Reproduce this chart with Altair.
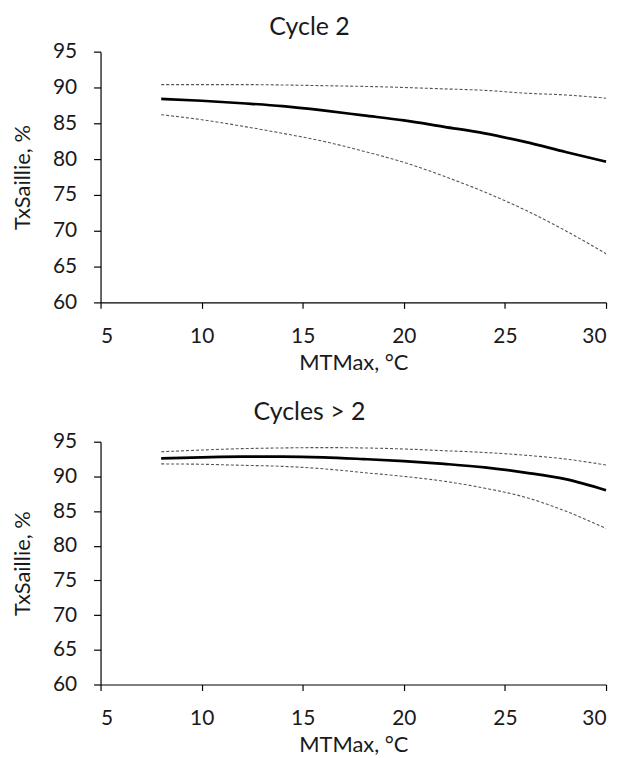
import altair as alt
import pandas as pd

# MTMax (°C) sample positions
x_vals = [8, 10, 12, 14, 16, 18, 20, 22, 24, 26, 28, 30]

# Cycle 2
c2_fit   = [88.4, 88.15, 87.8, 87.4, 86.8, 86.1, 85.4, 84.5, 83.6, 82.4, 81.0, 79.65]
c2_upper = [90.4, 90.4, 90.4, 90.35, 90.25, 90.15, 90.0, 89.8, 89.6, 89.2, 88.95, 88.5]
c2_lower = [86.2, 85.5, 84.6, 83.6, 82.5, 81.1, 79.55, 77.6, 75.4, 72.9, 70.0, 66.8]

# Cycles > 2
c3_fit   = [92.6, 92.75, 92.85, 92.85, 92.75, 92.5, 92.2, 91.8, 91.3, 90.55, 89.6, 88.0]
c3_upper = [93.55, 93.8, 94.0, 94.1, 94.15, 94.1, 93.95, 93.7, 93.45, 93.05, 92.5, 91.65]
c3_lower = [91.8, 91.75, 91.6, 91.45, 91.1, 90.55, 90.0, 89.3, 88.3, 87.0, 85.0, 82.5]

x_ticks = [5, 10, 15, 20, 25, 30]
y_ticks = [60, 65, 70, 75, 80, 85, 90, 95]

FONT = "Lato"
TXT = "#1a1a1a"


def panel(title, fit, upper, lower, height, title_offset):
    df = pd.DataFrame({
        "MTMax": x_vals * 3,
        "val": fit + upper + lower,
        "serie": ["fit"] * len(x_vals) + ["upper"] * len(x_vals) + ["lower"] * len(x_vals),
    })
    x = alt.X("MTMax:Q",
              scale=alt.Scale(domain=[5, 30], nice=False, zero=False),
              axis=alt.Axis(values=x_ticks, title="MTMax, °C", tickSize=6,
                            labelPadding=17, titlePadding=6))
    y = alt.Y("val:Q",
              scale=alt.Scale(domain=[60, 95], nice=False, zero=False),
              axis=alt.Axis(values=y_ticks, title="TxSaillie, %", tickSize=7,
                            labelPadding=17, titlePadding=18))
    base = alt.Chart(df).encode(x=x, y=y)
    fit_l = base.transform_filter(alt.datum.serie == "fit").mark_line(
        color="black", strokeWidth=2.7, interpolate="monotone")
    up_l = base.transform_filter(alt.datum.serie == "upper").mark_line(
        color="#555555", strokeWidth=1.1, strokeDash=[3, 2], interpolate="monotone")
    lo_l = base.transform_filter(alt.datum.serie == "lower").mark_line(
        color="#555555", strokeWidth=1.1, strokeDash=[3, 2], interpolate="monotone")
    return alt.layer(up_l, lo_l, fit_l).properties(
        width=508, height=height,
        title=alt.TitleParams(title, fontSize=25, font=FONT, color=TXT,
                              fontWeight="normal", anchor="middle",
                              frame="group", dx=-44, offset=title_offset),
    )


top = panel("Cycle 2", c2_fit, c2_upper, c2_lower, 252, 1)
bottom = panel("Cycles > 2", c3_fit, c3_upper, c3_lower, 244, 6)

chart = alt.vconcat(top, bottom, spacing=27).properties(
    padding={"left": 3, "top": 5, "right": 0, "bottom": 0}
).configure_view(stroke=None).configure_axis(
    grid=False,
    domainColor="black",
    tickColor="black",
    domainWidth=1.2,
    tickWidth=1.2,
    labelFont=FONT,
    labelFontSize=21,
    labelColor=TXT,
    titleFont=FONT,
    titleFontSize=22,
    titleFontWeight="normal",
    titleColor=TXT,
)

chart.save("out.html", embed_options={"renderer": "svg", "actions": False})
